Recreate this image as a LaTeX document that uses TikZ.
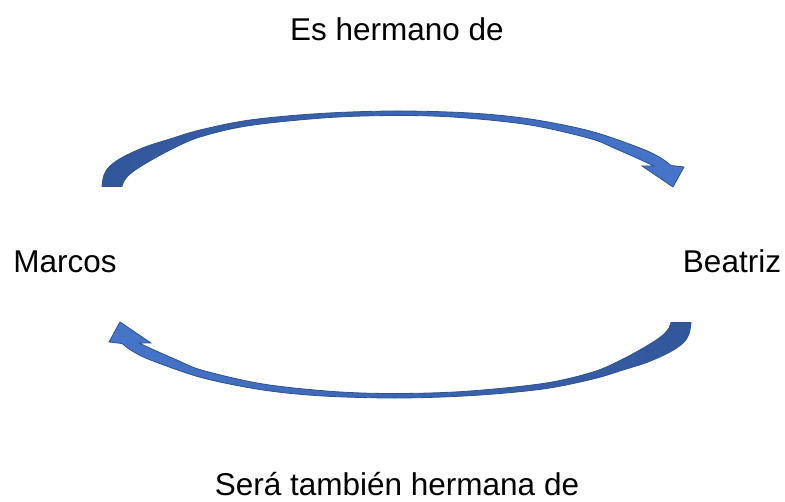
\documentclass[tikz,border=0pt]{standalone}
\usepackage{fontspec}
\setmainfont{Liberation Sans}
\definecolor{arrdark}{RGB}{50,86,154}
\definecolor{arrlight}{RGB}{70,117,202}
\definecolor{arredge}{RGB}{47,82,143}
\tikzset{
  lbl/.style={font=\fontsize{31.5}{36}\selectfont, inner sep=0pt, anchor=base},
  blockarrow/.style={draw=arredge, line width=0.8pt, line join=miter}
}
\newcommand{\curvedblockarrow}{%
  plot[smooth,tension=0.55] coordinates {(102,186.5) (104,175) (110,166) (123,157) (145,147) (170,139) (200,130) (250,120) (320,113.5) (395,111) (470,113) (530,119) (590,131) (640,148) (660,157.5) (671,165.5)}
  -- (684,167) -- (673,187) -- (642,166)
  -- plot[smooth,tension=0.55] coordinates {(654,166) (640,159.5) (615,148.5) (590,138.5) (530,125) (460,117.5) (400,115.5) (330,117.5) (250,125.5) (200,137) (170,150) (143,165) (130,174) (124,181) (122,186.5)}
  -- cycle}
\begin{document}
\begin{tikzpicture}[x=1pt,y=-1pt]
\useasboundingbox (0,0) rectangle (785,502);
\node[lbl] (top) at (397,41) {Es hermano de};
\node[lbl] (marcos) at (65,273) {Marcos};
\node[lbl] (beatriz) at (732,273) {Beatriz};
\node[lbl] (bottom) at (397,496) {Será también hermana de};
\shade[blockarrow, left color=arrdark, right color=arrlight] \curvedblockarrow;
\begin{scope}[rotate around={180:(396.5,254.5)}]
\shade[blockarrow, left color=arrlight, right color=arrdark] \curvedblockarrow;
\end{scope}
\end{tikzpicture}
\end{document}
